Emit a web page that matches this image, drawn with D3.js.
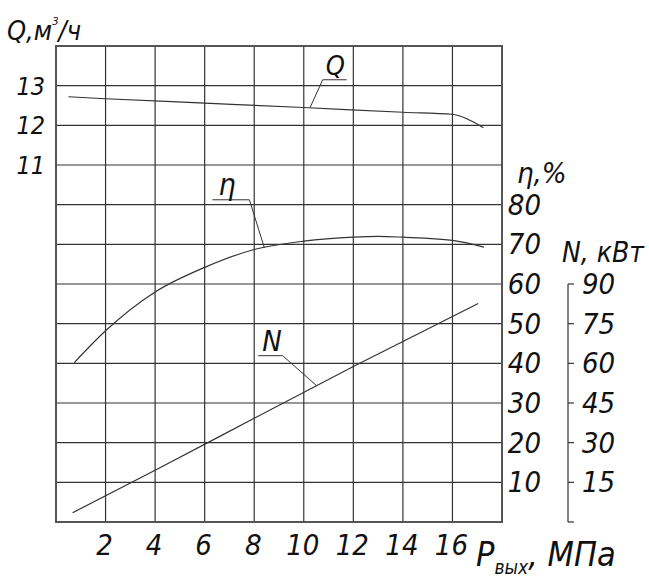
<!DOCTYPE html>
<html lang="ru">
<head>
  <meta charset="UTF-8">
  <title>Характеристика насоса</title>
  <style>
    body { margin: 0; background: #fff; }
    text {
      font-family: "Liberation Sans Narrow", "DejaVu Sans Condensed", sans-serif;
      font-style: italic;
      fill: #111;
    }
    .grid line { stroke: #333; stroke-width: 1.2px; }
    .border { fill: none; stroke: #555; stroke-width: 2px; }
    .curve { fill: none; stroke: #333; stroke-width: 1.2px; }
    .leader { fill: none; stroke: #333; stroke-width: 1px; }
  </style>
</head>
<body>
  <svg width="649" height="588"></svg>

  <script src="https://d3js.org/d3.v7.min.js"></script>
  <script>
    // Q, m3/h vs outlet pressure
    const qPress = [0.5, 2, 6, 10, 14, 16, 16.6, 17.25];
    const qVals  = [12.72, 12.67, 12.56, 12.45, 12.33, 12.28, 12.16, 11.94];

    // efficiency, %
    const etaPress = [0.74, 2, 4, 6, 8, 10, 12, 13, 14, 16, 17.27];
    const etaVals  = [40.2, 48.2, 58, 64.2, 68.7, 70.8, 71.8, 72, 71.8, 71, 69.3];

    // power, kW
    const nPress = [0.67, 4, 8, 12, 17.04];
    const nVals  = [3.5, 19.6, 39.2, 58.8, 82.6];

    const xTicks = [2, 4, 6, 8, 10, 12, 14, 16];
    const qTicks = [11, 12, 13];
    const etaTicks = [10, 20, 30, 40, 50, 60, 70, 80];
    const nTicks = [0, 15, 30, 45, 60, 75, 90];

    const svg = d3.select("svg");

    const x = d3.scaleLinear().domain([0, 18]).range([56, 502]);
    const yQ = d3.scaleLinear().domain([2, 14]).range([522, 46]);
    const yEta = d3.scaleLinear().domain([0, 120]).range([522, 46]);
    const yN = d3.scaleLinear().domain([0, 180]).range([522, 46]);

    // grid
    const grid = svg.append("g").attr("class", "grid");
    grid.selectAll(".v")
      .data(d3.range(2, 18, 2))
      .join("line")
      .attr("x1", d => x(d)).attr("x2", d => x(d))
      .attr("y1", yEta(120)).attr("y2", yEta(0));
    grid.selectAll(".h")
      .data(d3.range(10, 120, 10))
      .join("line")
      .attr("x1", x(0)).attr("x2", x(18))
      .attr("y1", d => yEta(d)).attr("y2", d => yEta(d));
    svg.append("rect")
      .attr("class", "border")
      .attr("x", x(0)).attr("y", yEta(120))
      .attr("width", x(18) - x(0)).attr("height", yEta(0) - yEta(120));

    // curves
    const line = (ys, curve) => d3.line()
      .x(d => x(d[0]))
      .y(d => ys(d[1]))
      .curve(curve);

    svg.append("path").attr("class", "curve")
      .attr("d", line(yQ, d3.curveMonotoneX)(d3.zip(qPress, qVals)));
    svg.append("path").attr("class", "curve")
      .attr("d", line(yEta, d3.curveMonotoneX)(d3.zip(etaPress, etaVals)));
    svg.append("path").attr("class", "curve")
      .attr("d", line(yN, d3.curveMonotoneX)(d3.zip(nPress, nVals)));

    // leader labels
    function leader(name, press, vals, ys, p, dx, dy, len, toRight, tx, fs) {
      const v = d3.scaleLinear().domain(press).range(vals)(p);
      const ax = x(p), ay = ys(v);
      const ux = ax + dx, uy = ay + dy;
      const ex = toRight ? ux + len : ux - len;
      svg.append("path").attr("class", "leader")
        .attr("d", `M${ax},${ay}L${ux},${uy}L${ex},${uy}`);
      svg.append("text")
        .attr("x", Math.min(ux, ex) + tx)
        .attr("y", uy - 5)
        .attr("font-size", fs)
        .text(name);
    }
    leader("Q", qPress, qVals, yQ, 10.25, 12.7, -28, 24, true, 3, 27);
    leader("η", etaPress, etaVals, yEta, 8.41, -15, -48, 37, false, 6, 30);
    leader("N", nPress, nVals, yN, 10.52, -34, -30, 24.5, false, 4, 29);

    // x tick labels
    svg.selectAll(".xt")
      .data(xTicks)
      .join("text")
      .attr("x", d => x(d) - 1)
      .attr("y", 555)
      .attr("text-anchor", "middle")
      .attr("font-size", 29)
      .text(d => d);

    // Q tick labels
    svg.selectAll(".qt")
      .data(qTicks)
      .join("text")
      .attr("x", 45)
      .attr("y", d => yQ(d) + 9)
      .attr("text-anchor", "end")
      .attr("font-size", 25)
      .text(d => d);

    // eta tick labels
    svg.selectAll(".et")
      .data(etaTicks)
      .join("text")
      .attr("x", 541)
      .attr("y", d => yEta(d) + 10)
      .attr("text-anchor", "end")
      .attr("font-size", 29)
      .text(d => d);

    // N axis
    const nAx = 568;
    svg.append("line")
      .attr("x1", nAx).attr("x2", nAx)
      .attr("y1", yN(90)).attr("y2", yN(0))
      .attr("stroke", "#333").attr("stroke-width", 1.2);
    svg.selectAll(".ntick")
      .data(nTicks)
      .join("line")
      .attr("x1", nAx).attr("x2", nAx + 6)
      .attr("y1", d => yN(d)).attr("y2", d => yN(d))
      .attr("stroke", "#333").attr("stroke-width", 1.2);
    svg.selectAll(".nt")
      .data(nTicks.filter(d => d > 0))
      .join("text")
      .attr("x", 582)
      .attr("y", d => yN(d) + 10)
      .attr("font-size", 29)
      .text(d => d);

    // axis titles
    const qt = svg.append("text").attr("x", 7).attr("y", 40).attr("font-size", 27);
    qt.append("tspan").text("Q,м");
    qt.append("tspan").attr("font-size", 11).attr("dy", -15).text("3");
    qt.append("tspan").attr("dy", 15).text("/ч");

    svg.append("text").attr("x", 517).attr("y", 183).attr("font-size", 29).text("η,%");
    svg.append("text").attr("x", 562).attr("y", 262).attr("font-size", 28).text("N, кВт");

    const xt = svg.append("text").attr("x", 476).attr("y", 566).attr("font-size", 34);
    xt.append("tspan").text("P");
    xt.append("tspan").attr("font-size", 19).attr("dy", 8).text("вых");
    xt.append("tspan").attr("dy", -8).text(", МПа");
  </script>
</body>
</html>
